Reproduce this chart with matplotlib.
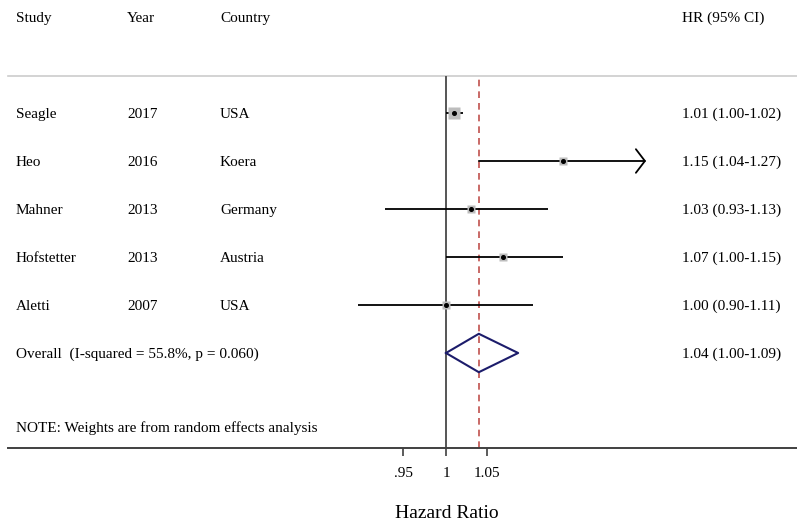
import numpy as np
import matplotlib
matplotlib.use("Agg")
import matplotlib.pyplot as plt
from matplotlib.transforms import blended_transform_factory

plt.rcParams['font.family'] = ['Liberation Serif', 'DejaVu Serif']

# data
studies = ["Seagle", "Heo", "Mahner", "Hofstetter", "Aletti"]
years = ["2017", "2016", "2013", "2013", "2007"]
countries = ["USA", "Koera", "Germany", "Austria", "USA"]
hr = [1.01, 1.15, 1.03, 1.07, 1.00]
lo = [1.00, 1.04, 0.93, 1.00, 0.90]
hi = [1.02, 1.27, 1.13, 1.15, 1.11]
weights = [38, 13, 14, 19, 13]
overall = (1.04, 1.00, 1.09)
overall_label = "Overall  (I-squared = 55.8%, p = 0.060)"
note = "NOTE: Weights are from random effects analysis"
xticks = [0.95, 1, 1.05]
xticklabels = [".95", "1", "1.05"]

W, H = 797, 523
fig = plt.figure(figsize=(W / 100, H / 100), dpi=100)
ax = fig.add_axes([8 / W, (H - 448) / H, (W - 8) / W, (448 - 76) / H])
ax.set_xscale('log')
k = 837.0
ax.set_xlim(np.exp((8 - 446) / k), np.exp((W - 446) / k))
ax.set_ylim((448 - 113) / 48, (76 - 113) / 48)

for s in ['top', 'right', 'left']:
    ax.spines[s].set_visible(False)
ax.spines['bottom'].set_color('#404040')
ax.spines['bottom'].set_linewidth(1.4)
ax.set_yticks([])
ax.set_xticks(xticks)
ax.set_xticklabels(xticklabels)
ax.xaxis.set_minor_locator(matplotlib.ticker.NullLocator())
ax.tick_params(axis='x', length=6, width=1.2, color='#404040', labelsize=11, pad=8)
fig.text(447 / W, (H - 513) / H, "Hazard Ratio", fontsize=14, ha='center', va='center')

# top separator
ax.axhline(ax.get_ylim()[1], color='#cccccc', lw=1.2, clip_on=False)

ax.axvline(1, color='#555555', lw=1.4)
ax.axvline(overall[0], color='#c0504d', lw=1.2, ls=(0, (4, 3)))

rows = np.arange(len(studies))
for i in rows:
    if hi[i] > 1.2:
        # Stata-style arrow for a long CI
        ax.annotate("", xy=(hi[i], i), xytext=(lo[i], i),
                    arrowprops=dict(arrowstyle='->,head_length=0.65,head_width=0.85',
                                    color='black', lw=1.3, mutation_scale=10,
                                    shrinkA=0, shrinkB=0))
    else:
        ax.plot([lo[i], hi[i]], [i, i], color='black', lw=1.3, solid_capstyle='butt')
    ax.plot(hr[i], i, marker='s', ms=1.4 * np.sqrt(weights[i]), color='#bdbdbd',
            mec='none', zorder=3)
    ax.plot(hr[i], i, marker='o', ms=2.6, color='black', zorder=4)

# overall diamond
yo = len(studies)
dx = [overall[1], overall[0], overall[2], overall[0], overall[1]]
dy = [yo, yo - 0.4, yo, yo + 0.4, yo]
ax.plot(dx, dy, color='#1c1c6b', lw=1.5, zorder=4)

tr = blended_transform_factory(fig.transFigure, ax.transData)
fs = 11
va = 'center_baseline'
cols = [16, 127, 220]
hdr = ["Study", "Year", "Country"]
for c, t in zip(cols, hdr):
    ax.text(c / W, -2, t, transform=tr, fontsize=fs, va=va, clip_on=False)
ax.text(682 / W, -2, "HR (95% CI)", transform=tr, fontsize=fs, va=va, clip_on=False)

for i in rows:
    for c, t in zip(cols, [studies[i], years[i], countries[i]]):
        ax.text(c / W, i, t, transform=tr, fontsize=fs, va=va)
    ax.text(682 / W, i, "%.2f (%.2f-%.2f)" % (hr[i], lo[i], hi[i]), transform=tr,
            fontsize=fs, va=va)

ax.text(16 / W, yo, overall_label, transform=tr, fontsize=fs, va=va)
ax.text(682 / W, yo, "%.2f (%.2f-%.2f)" % overall, transform=tr, fontsize=fs, va=va)
ax.text(16 / W, 6.54, note, transform=tr, fontsize=fs, va=va)

fig.savefig("out.png", dpi=100)
